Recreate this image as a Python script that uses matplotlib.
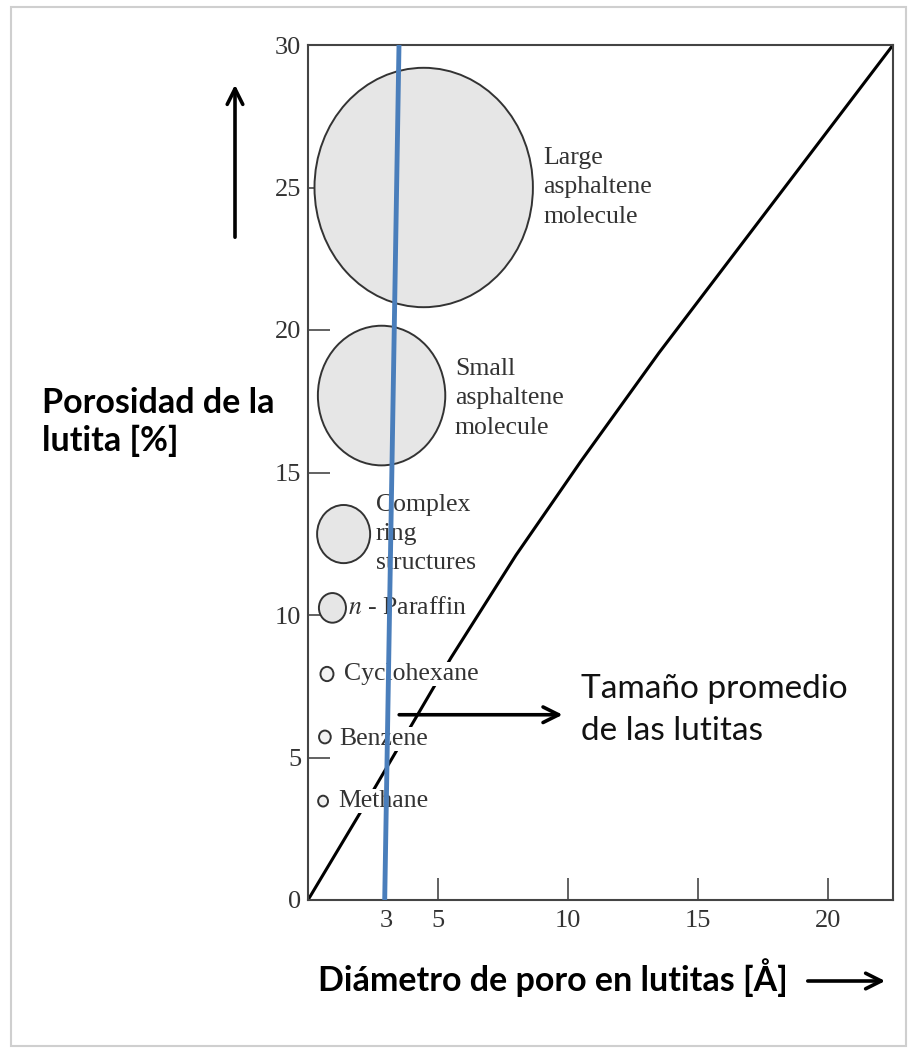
import matplotlib
matplotlib.use("Agg")
import matplotlib.pyplot as plt
from matplotlib.patches import Ellipse, Rectangle

# molecule sizes shown as circles (diameter in angstrom), centre at porosity level
mol_labels = ["Large\nasphaltene\nmolecule", "Small\nasphaltene\nmolecule",
              "Complex\nring\nstructures", "$n$ - Paraffin", "Cyclohexane",
              "Benzene", "Methane"]
mol_x = [4.45, 2.83, 1.37, 0.94, 0.73, 0.65, 0.58]
mol_y = [25.0, 17.7, 12.84, 10.25, 7.93, 5.72, 3.47]
mol_d = [8.4, 4.9, 2.04, 1.04, 0.5, 0.45, 0.38]
label_x = [9.05, 5.65, 2.6, 1.55, 1.38, 1.2, 1.15]
label_y = [25.0, 17.6, 12.84, 10.25, 7.93, 5.65, 3.47]

# pore diameter vs porosity curve
curve_x = [0, 2.0, 5.5, 8.0, 10.5, 13.5, 16.5, 22.5]
curve_y = [0, 3.05, 8.5, 12.1, 15.4, 19.2, 22.8, 30]

# average shale pore size (vertical blue line)
avg_x = [2.95, 3.5]
avg_y = [0, 30]

xticks = [3, 5, 10, 15, 20]
yticks = [0, 5, 10, 15, 20, 25, 30]

plt.rcParams["mathtext.fontset"] = "stix"
serif = "Liberation Serif"
sans = "Lato"

fig = plt.figure(figsize=(9.08, 10.51), dpi=100)
ax = fig.add_axes([308 / 908, 151 / 1051, 585 / 908, 855 / 1051])

ax.plot(curve_x, curve_y, color="black", lw=2.2, zorder=2)

for x, y, d in zip(mol_x, mol_y, mol_d):
    fc = "#e6e6e6" if d > 0.8 else "#f2f2f2"
    ax.add_patch(Ellipse((x, y), d, d, facecolor=fc, edgecolor="#333333",
                         lw=1.4, zorder=3))

for lab, x, y in zip(mol_labels, label_x, label_y):
    ax.text(x, y, lab, ha="left", va="center", fontsize=18.5, family=serif,
            color="#333333", linespacing=1.42, zorder=4,
            bbox=dict(facecolor="white", edgecolor="none", pad=0.5))

ax.plot(avg_x, avg_y, color="#4a7ebb", lw=3.5, zorder=6)

ax.annotate("", xy=(9.9, 6.5), xytext=(3.4, 6.5),
            arrowprops=dict(arrowstyle="->", lw=2.6, color="black",
                            mutation_scale=28), zorder=7)
ax.text(10.5, 6.65, "Tamaño promedio\nde las lutitas", ha="left", va="center",
        fontsize=24, family=sans, color="#111111", linespacing=1.5, zorder=7)

ax.set_xlim(0, 22.5)
ax.set_ylim(0, 30)
ax.set_xticks(xticks)
ax.set_yticks(yticks)
ax.set_xticklabels([str(t) for t in xticks], family=serif, fontsize=19, color="#333333")
ax.set_yticklabels([str(t) for t in yticks], family=serif, fontsize=19, color="#333333")
ax.tick_params(direction="in", length=16, width=1.3, color="#555555", pad=7)
ax.tick_params(axis="y", pad=5)
ax.xaxis.get_major_ticks()[0].tick1line.set_visible(False)
for s in ax.spines.values():
    s.set_color("#444444")
    s.set_linewidth(1.5)

# axis titles and arrows in figure space
fig.text(42 / 908, 1 - 422 / 1051, "Porosidad de la\nlutita [%]", ha="left",
         va="center", fontsize=24.5, family=sans, fontweight="bold",
         linespacing=1.25)
fig.text(318 / 908, 1 - 978 / 1051, "Diámetro de poro en lutitas [Å]",
         ha="left", va="center", fontsize=24.5, family=sans, fontweight="bold")
fig.patches.append(matplotlib.patches.FancyArrowPatch(
    (235 / 908, 1 - 240 / 1051), (235 / 908, 1 - 82 / 1051),
    transform=fig.transFigure, arrowstyle="->", lw=2.6, color="black",
    mutation_scale=28))
fig.patches.append(matplotlib.patches.FancyArrowPatch(
    (805 / 908, 1 - 981 / 1051), (888 / 908, 1 - 981 / 1051),
    transform=fig.transFigure, arrowstyle="->", lw=2.6, color="black",
    mutation_scale=28))

# picture frame
fig.patches.append(Rectangle((11 / 908, 5 / 1051), 895 / 908, 1039 / 1051,
                             transform=fig.transFigure, fill=False,
                             edgecolor="#cfcfcf", lw=1.5))

fig.savefig("out.png", dpi=100)
